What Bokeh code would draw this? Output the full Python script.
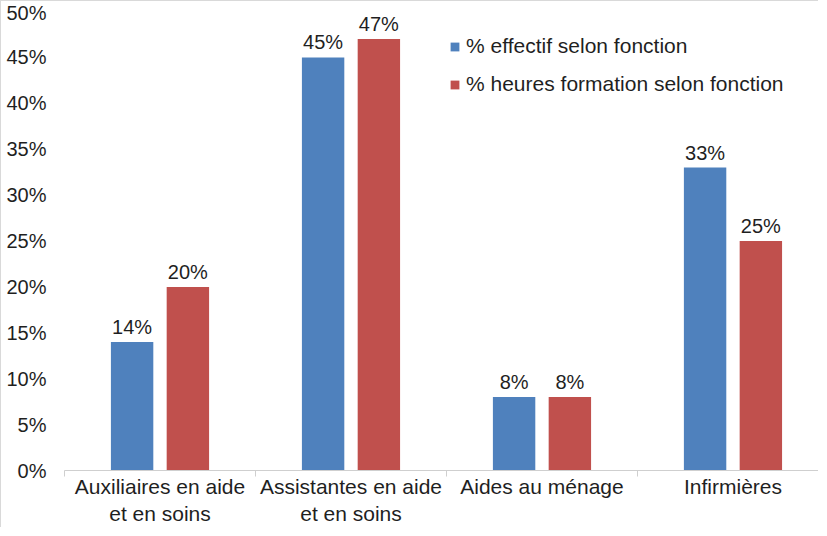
from bokeh.plotting import figure
from bokeh.models import FixedTicker, ColumnDataSource, Legend, LegendItem
from bokeh.core.properties import value
from bokeh.embed import file_html
from bokeh.resources import INLINE

categories = ["Auxiliaires en aide\net en soins", "Assistantes en aide\net en soins", "Aides au ménage", "Infirmières"]
effectif = [14, 45, 8, 33]
heures = [20, 47, 8, 25]
series_names = ["% effectif selon fonction", "% heures formation selon fonction"]
y_ticks = [0, 5, 10, 15, 20, 25, 30, 35, 40, 45, 50]

BLUE = "#4F81BD"
RED = "#C0504D"
FONT = "Liberation Sans"
TXT = "#1f1f1f"

p = figure(width=818, height=527, output_backend="svg", toolbar_location=None,
           x_range=(0, 3.953), y_range=(0, 50),
           min_border_left=63, min_border_right=0, min_border_top=10, min_border_bottom=57)
p.styles = {"border-left": "1px solid #d9d9d9", "border-top": "1px solid #d9d9d9"}
p.outline_line_color = None
p.grid.grid_line_color = None

centers = [i + 0.5 for i in range(len(categories))]
off = 0.146
w = 0.222
xb = [c - off for c in centers]
xr = [c + off for c in centers]

src_b = ColumnDataSource(dict(x=xb, top=effectif, lab=[f"{v}%" for v in effectif]))
src_r = ColumnDataSource(dict(x=xr, top=heures, lab=[f"{v}%" for v in heures]))

rb = p.vbar(x="x", top="top", width=w, bottom=0, source=src_b, fill_color=BLUE, line_color=None)
rr = p.vbar(x="x", top="top", width=w, bottom=0, source=src_r, fill_color=RED, line_color=None)

for s in (src_b, src_r):
    p.text(x="x", y="top", text="lab", source=s, text_align="center", text_baseline="bottom",
           y_offset=-4, text_font=value(FONT), text_font_size="20px", text_color=TXT)

# x axis
xa = p.xaxis[0]
xa.ticker = FixedTicker(ticks=centers, minor_ticks=list(range(len(categories) + 1)))
xa.major_label_overrides = {c: lab for c, lab in zip(centers, categories)}
xa.major_tick_line_color = None
xa.major_tick_out = 0
xa.major_tick_in = 0
xa.minor_tick_out = 6
xa.minor_tick_in = 0
xa.minor_tick_line_color = "#cfcfcf"
xa.axis_line_color = "#cfcfcf"
xa.major_label_text_font = FONT
xa.major_label_text_font_size = "21px"
xa.major_label_text_color = TXT
xa.major_label_standoff = -2

ya = p.yaxis[0]
ya.ticker = FixedTicker(ticks=y_ticks)
ya.major_label_overrides = {t: f"{t}%" for t in y_ticks}
ya.axis_line_color = None
ya.major_tick_line_color = None
ya.major_tick_out = 0
ya.major_tick_in = 0
ya.minor_tick_line_color = None
ya.major_label_text_font = FONT
ya.major_label_text_font_size = "20px"
ya.major_label_text_color = TXT
ya.major_label_standoff = 18

legend = Legend(items=[LegendItem(label=series_names[0], renderers=[rb]),
                       LegendItem(label=series_names[1], renderers=[rr])],
                location=(385, 374), orientation="vertical")
legend.background_fill_alpha = 0
legend.border_line_color = None
legend.label_text_font = FONT
legend.label_text_font_size = "21px"
legend.label_text_color = TXT
legend.glyph_width = 11
legend.glyph_height = 11
legend.label_height = 24
legend.label_standoff = 6
legend.spacing = 14
legend.padding = 0
legend.margin = 0
p.add_layout(legend)

open("out.html", "w").write(file_html(p, INLINE))
